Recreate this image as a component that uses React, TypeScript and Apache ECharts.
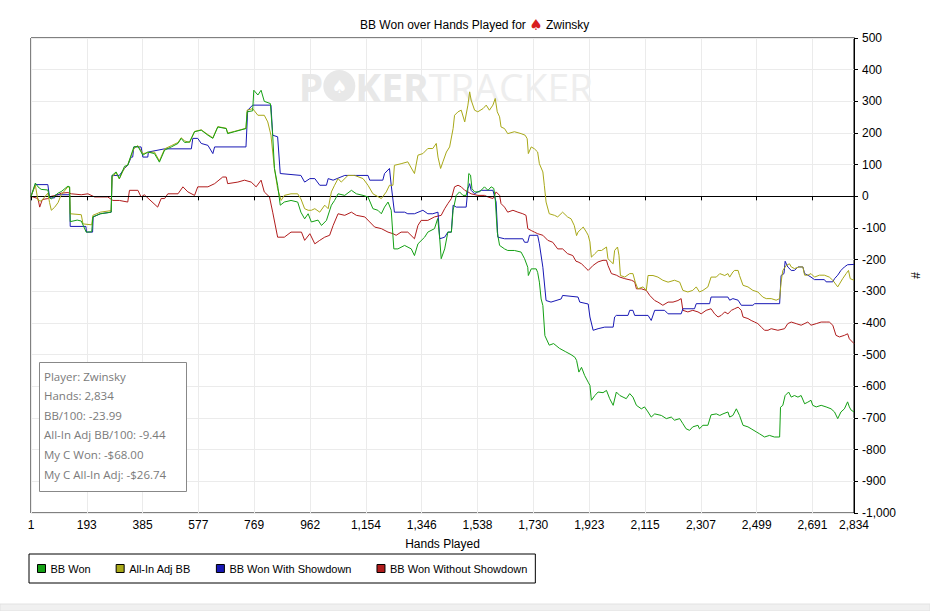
import React, { useEffect, useRef } from 'react';
import * as echarts from 'echarts';

// hand number, cumulative big blinds
const bbWon: number[][] = [
  [1, 0], [16, 42], [25, 30], [36, 22], [59, 20], [65, -5], [71, -8], [94, 10], [105, 15], [128, 32], [134, 30],
  [136, -80], [160, -75], [174, -78], [191, -113], [210, -112], [214, -65], [240, -55], [277, -50], [280, 66],
  [294, 77], [305, 56], [323, 95], [334, 98], [355, 156], [369, 158], [386, 130], [403, 140], [426, 135],
  [443, 108], [461, 146], [484, 156], [507, 167], [518, 183], [530, 170], [547, 172], [564, 204], [587, 209],
  [610, 193], [627, 183], [644, 219], [673, 214], [678, 198], [701, 204], [741, 214], [745, 267], [764, 270],
  [768, 335], [782, 320], [793, 335], [804, 300], [825, 293], [833, 193], [839, 88], [850, 35], [859, -28],
  [873, -18], [896, -13], [919, -18], [930, -50], [943, -71], [955, -55], [966, -81], [989, -75], [1001, -92],
  [1018, -76], [1035, -28], [1046, -13], [1058, 8], [1081, 3], [1104, 19], [1121, 8], [1144, 3], [1161, -2],
  [1178, -39], [1195, -44], [1207, -55], [1218, -34], [1230, -18], [1241, -44], [1250, -166], [1264, -166],
  [1287, -155], [1310, -166], [1321, -187], [1333, -150], [1356, -129], [1367, -113], [1390, -102], [1401, -70],
  [1408, -134], [1413, -197], [1425, -166], [1436, -113], [1448, -113], [1454, -44], [1465, 3], [1476, 14],
  [1488, 3], [1499, 3], [1505, 30], [1508, 72], [1514, 67], [1519, 24], [1528, 14], [1545, 14], [1562, 30],
  [1574, 19], [1585, 30], [1594, 25], [1599, -7], [1606, -113], [1614, -155], [1631, -166], [1642, -171],
  [1665, -171], [1688, -176], [1700, -197], [1711, -224], [1713, -250], [1723, -229], [1740, -229], [1745, -240],
  [1751, -271], [1757, -324], [1763, -345], [1770, -440], [1785, -470], [1800, -465], [1820, -480], [1840, -490],
  [1860, -500], [1873, -508], [1879, -518], [1887, -555], [1896, -540], [1907, -566], [1919, -587], [1925, -597],
  [1930, -644], [1942, -629], [1953, -618], [1970, -620], [1982, -613], [1993, -639], [2005, -660], [2016, -618],
  [2028, -629], [2039, -634], [2050, -639], [2062, -623], [2073, -634], [2085, -660], [2102, -671], [2113, -665],
  [2125, -681], [2136, -697], [2148, -687], [2171, -692], [2188, -702], [2205, -697], [2216, -707], [2234, -702],
  [2245, -718], [2256, -734], [2268, -739], [2279, -728], [2297, -723], [2302, -734], [2314, -723], [2331, -723],
  [2342, -690], [2360, -687], [2372, -692], [2383, -687], [2400, -681], [2406, -697], [2417, -692], [2429, -671],
  [2440, -692], [2452, -723], [2469, -728], [2480, -734], [2498, -744], [2509, -750], [2526, -760], [2543, -755],
  [2560, -760], [2578, -760], [2581, -666], [2589, -660], [2597, -629], [2609, -618], [2618, -634], [2629, -629],
  [2641, -634], [2652, -629], [2664, -655], [2675, -650], [2686, -644], [2692, -660], [2704, -665], [2721, -660],
  [2738, -665], [2755, -671], [2767, -681], [2778, -702], [2789, -681], [2801, -671], [2812, -649], [2818, -665],
  [2824, -675], [2834, -681],
];

const allInAdj: number[][] = [
  [1, 0], [16, 35], [25, -13], [36, -15], [59, 10], [65, -20], [71, -44], [82, -35], [94, -20], [105, 5],
  [128, 30], [134, 28], [136, -55], [174, -58], [180, -87], [210, -90], [214, -60], [240, -50], [277, -45],
  [280, 60], [294, 75], [305, 55], [323, 90], [334, 100], [355, 150], [369, 160], [386, 135], [403, 138],
  [426, 140], [443, 112], [461, 150], [484, 160], [507, 170], [518, 185], [530, 175], [547, 170], [564, 205],
  [587, 210], [610, 195], [627, 185], [644, 220], [673, 215], [678, 200], [701, 205], [741, 215], [745, 272],
  [764, 277], [782, 256], [804, 256], [816, 235], [827, 193], [839, 88], [850, 24], [862, -13], [873, 3],
  [896, 8], [919, 8], [930, -8], [943, -39], [955, -44], [966, -44], [978, -39], [995, -50], [1012, -28],
  [1024, -39], [1035, 14], [1046, 35], [1058, 56], [1069, 45], [1092, 66], [1115, 66], [1144, 56], [1161, 35],
  [1178, 8], [1207, -7], [1224, 14], [1235, 35], [1247, 35], [1252, 98], [1275, 103], [1298, 109], [1321, 72],
  [1333, 130], [1350, 135], [1367, 151], [1384, 151], [1396, 167], [1402, 124], [1411, 88], [1419, 109],
  [1431, 140], [1442, 156], [1454, 214], [1459, 256], [1471, 267], [1482, 272], [1494, 235], [1505, 288],
  [1511, 330], [1516, 304], [1528, 272], [1539, 267], [1557, 277], [1568, 288], [1579, 272], [1591, 288],
  [1599, 309], [1606, 267], [1614, 251], [1619, 219], [1631, 214], [1642, 198], [1665, 204], [1688, 198],
  [1702, 193], [1709, 182], [1713, 135], [1723, 156], [1734, 150], [1745, 140], [1751, 103], [1763, 77],
  [1768, 35], [1774, -18], [1785, -55], [1803, -60], [1814, -65], [1831, -50], [1848, -65], [1860, -71],
  [1871, -92], [1879, -124], [1884, -113], [1896, -102], [1902, -97], [1913, -113], [1919, -123], [1925, -144],
  [1930, -192], [1942, -181], [1953, -171], [1965, -171], [1982, -160], [1987, -197], [2005, -213], [2010, -171],
  [2020, -160], [2025, -186], [2030, -250], [2045, -255], [2062, -244], [2073, -244], [2081, -271], [2090, -292],
  [2108, -286], [2119, -297], [2125, -250], [2142, -250], [2159, -255], [2176, -265], [2194, -271], [2216, -265],
  [2234, -271], [2245, -297], [2262, -302], [2279, -297], [2291, -286], [2302, -302], [2314, -297], [2331, -286],
  [2342, -255], [2360, -255], [2372, -244], [2389, -250], [2400, -244], [2406, -255], [2417, -239], [2423, -234],
  [2435, -234], [2440, -250], [2452, -281], [2469, -286], [2486, -297], [2503, -302], [2520, -318], [2532, -323],
  [2549, -323], [2566, -328], [2578, -323], [2583, -271], [2589, -234], [2601, -218], [2612, -213], [2618, -223],
  [2629, -228], [2646, -223], [2658, -223], [2664, -249], [2675, -249], [2686, -244], [2698, -255], [2715, -249],
  [2732, -249], [2749, -255], [2761, -265], [2778, -286], [2795, -260], [2807, -244], [2815, -234], [2821, -260],
  [2834, -265],
];

const withShowdown: number[][] = [
  [1, 0], [16, 37], [59, 37], [65, -5], [82, -5], [86, 5], [134, 5], [136, -95], [190, -95], [192, -113],
  [213, -113], [215, -65], [240, -55], [277, -50], [280, 66], [305, 66], [323, 88], [334, 98], [346, 124],
  [351, 124], [355, 156], [380, 156], [386, 124], [403, 124], [405, 140], [461, 150], [553, 150], [558, 183],
  [575, 183], [587, 167], [610, 161], [627, 135], [633, 156], [741, 156], [747, 272], [764, 288], [827, 288],
  [833, 193], [850, 188], [859, 72], [930, 66], [943, 45], [961, 56], [978, 56], [995, 35], [1018, 35],
  [1024, 56], [1041, 51], [1081, 66], [1161, 66], [1167, 51], [1212, 51], [1218, 72], [1235, 88], [1241, 35],
  [1252, -50], [1287, -50], [1298, -55], [1321, -55], [1350, -44], [1367, -55], [1384, -55], [1402, -50],
  [1408, -134], [1425, -129], [1436, -113], [1448, -113], [1454, -28], [1465, -34], [1499, -34], [1505, 24],
  [1511, 40], [1516, 19], [1528, 8], [1539, 14], [1551, 19], [1591, 19], [1602, -18], [1608, -129], [1631, -134],
  [1694, -134], [1700, -145], [1711, -145], [1717, -123], [1745, -123], [1751, -150], [1763, -224], [1774, -329],
  [1791, -334], [1826, -324], [1831, -313], [1884, -318], [1890, -334], [1919, -340], [1925, -381], [1936, -423],
  [1953, -418], [1976, -413], [2005, -413], [2010, -381], [2016, -376], [2056, -376], [2062, -360], [2073, -360],
  [2079, -376], [2125, -376], [2136, -392], [2148, -360], [2182, -360], [2194, -371], [2239, -371], [2245, -355],
  [2285, -355], [2291, -339], [2337, -339], [2342, -318], [2400, -318], [2406, -328], [2417, -323], [2435, -328],
  [2446, -344], [2486, -344], [2492, -339], [2578, -339], [2583, -250], [2593, -244], [2597, -205], [2606, -223],
  [2618, -234], [2629, -234], [2641, -223], [2658, -223], [2664, -244], [2675, -249], [2686, -255], [2698, -263],
  [2732, -263], [2738, -270], [2761, -270], [2767, -260], [2778, -249], [2789, -234], [2801, -223], [2812, -216],
  [2834, -215],
];

const withoutShowdown: number[][] = [
  [1, 0], [25, -7], [31, -34], [40, -10], [59, -7], [71, 0], [94, 5], [105, 10], [128, 12], [140, 8], [174, 5],
  [197, 8], [220, -2], [265, -2], [283, -13], [305, -13], [334, -18], [340, 19], [369, 19], [380, -2], [391, 5],
  [437, -34], [449, -7], [461, -7], [472, 8], [507, 8], [524, 30], [541, 14], [564, 3], [575, 30], [610, 30],
  [633, 40], [661, 61], [673, 61], [678, 40], [713, 45], [736, 51], [759, 45], [776, 30], [793, 51], [804, 14],
  [822, -2], [833, -50], [850, -129], [873, -129], [896, -113], [932, -113], [943, -139], [961, -118],
  [978, -150], [995, -139], [1012, -129], [1029, -123], [1041, -92], [1058, -55], [1081, -60], [1104, -50],
  [1121, -60], [1150, -65], [1167, -81], [1184, -97], [1207, -102], [1230, -113], [1247, -118], [1258, -123],
  [1275, -113], [1298, -113], [1321, -134], [1333, -92], [1344, -76], [1367, -76], [1390, -65], [1413, -60],
  [1425, -39], [1436, -23], [1448, -7], [1459, 30], [1471, 35], [1482, 30], [1494, 19], [1505, 14], [1516, 8],
  [1539, 3], [1562, 3], [1574, -2], [1591, -7], [1602, 14], [1614, 3], [1619, -23], [1631, -34], [1642, -50],
  [1660, -44], [1677, -50], [1694, -55], [1705, -60], [1711, -102], [1723, -108], [1734, -113], [1745, -118],
  [1763, -123], [1780, -139], [1797, -145], [1814, -166], [1831, -166], [1848, -181], [1866, -187], [1877, -205],
  [1884, -207], [1896, -213], [1907, -223], [1919, -234], [1936, -218], [1953, -207], [1970, -202], [1982, -202],
  [1987, -218], [1999, -244], [2016, -249], [2028, -255], [2045, -260], [2068, -265], [2079, -270], [2085, -292],
  [2102, -292], [2119, -297], [2131, -313], [2148, -329], [2159, -334], [2176, -344], [2194, -334], [2211, -334],
  [2228, -329], [2239, -323], [2245, -360], [2262, -365], [2279, -360], [2297, -365], [2308, -371], [2325, -360],
  [2342, -355], [2354, -371], [2366, -381], [2377, -376], [2389, -365], [2400, -371], [2412, -360], [2423, -355],
  [2435, -350], [2446, -360], [2452, -381], [2469, -386], [2480, -392], [2492, -397], [2503, -402], [2515, -413],
  [2526, -423], [2538, -423], [2549, -418], [2572, -423], [2595, -418], [2606, -402], [2618, -397], [2635, -402],
  [2652, -407], [2675, -397], [2686, -407], [2704, -402], [2721, -397], [2738, -397], [2749, -397], [2761, -407],
  [2772, -439], [2784, -444], [2801, -439], [2812, -434], [2818, -450], [2834, -465],
];

const handTicks = [1, 193, 385, 577, 769, 962, 1154, 1346, 1538, 1730, 1923, 2115, 2307, 2499, 2691, 2834];

const seriesNames = ['BB Won', 'All-In Adj BB', 'BB Won With Showdown', 'BB Won Without Showdown'];
const seriesColors = ['#14a014', '#a8a818', '#1818b4', '#b01c1c'];

const infoLines = [
  'Player: Zwinsky',
  'Hands: 2,834',
  'BB/100: -23.99',
  'All-In Adj BB/100: -9.44',
  'My C Won: -$68.00',
  'My C All-In Adj: -$26.74',
];

const FONT = '"Liberation Sans", Arial, sans-serif';

const App: React.FC = () => {
  const chartRef = useRef<HTMLDivElement>(null);

  useEffect(() => {
    if (!chartRef.current) return;
    const chart = echarts.init(chartRef.current, null, { renderer: 'svg' });

    const allData = [bbWon, allInAdj, withShowdown, withoutShowdown];

    const option = {
      animation: false,
      backgroundColor: '#fff',
      textStyle: { fontFamily: FONT },
      title: {
        text: '{t|BB Won over Hands Played for }{s|♠}{t| Zwinsky}',
        left: 355,
        top: 12,
        textStyle: {
          fontWeight: 'normal',
          rich: {
            t: { fontFamily: FONT, fontSize: 12, fontWeight: 'normal', color: '#000' },
            s: { fontFamily: '"DejaVu Sans"', fontSize: 15, fontWeight: 'normal', color: '#d81e1e' },
          },
        },
      },
      grid: {
        left: 31,
        right: 74,
        top: 38,
        bottom: 98,
        show: true,
        borderColor: '#000',
        borderWidth: 1,
        backgroundColor: 'transparent',
      },
      legend: {
        left: 29,
        top: 554,
        padding: [9, 8, 9, 8],
        borderColor: '#000',
        borderWidth: 1,
        itemGap: 25,
        itemWidth: 8,
        itemHeight: 8,
        icon: 'rect',
        itemStyle: { borderColor: '#000', borderWidth: 1 },
        textStyle: { fontFamily: FONT, fontSize: 11, color: '#000' },
        data: seriesNames,
      },
      xAxis: {
        type: 'value',
        min: 1,
        max: 2834,
        name: 'Hands Played',
        nameLocation: 'middle',
        nameGap: 25,
        nameTextStyle: { fontFamily: FONT, fontSize: 12, color: '#000' },
        axisLine: { show: true, lineStyle: { color: '#000' } },
        axisTick: { show: true, length: 4, customValues: handTicks, lineStyle: { color: '#000' } },
        axisLabel: {
          customValues: handTicks,
          margin: 6,
          fontFamily: FONT,
          fontSize: 12,
          color: '#000',
          formatter: (v: number) => echarts.format.addCommas(v),
        },
        splitLine: { show: true, lineStyle: { color: '#ebebeb' } },
      },
      yAxis: {
        type: 'value',
        position: 'right',
        min: -1000,
        max: 500,
        interval: 100,
        name: '#',
        nameLocation: 'middle',
        nameGap: 56,
        nameTextStyle: { fontFamily: FONT, fontSize: 12, color: '#000' },
        axisLine: { show: true, lineStyle: { color: '#000' } },
        axisTick: { show: true, length: 4, lineStyle: { color: '#000' } },
        axisLabel: {
          margin: 8,
          fontFamily: FONT,
          fontSize: 12,
          color: '#000',
          formatter: (v: number) => echarts.format.addCommas(v),
        },
        splitLine: { show: true, lineStyle: { color: '#ebebeb' } },
      },
      series: seriesNames.map((name, i) => ({
        name,
        type: 'line',
        data: allData[i],
        symbol: 'none',
        showSymbol: false,
        color: seriesColors[i],
        lineStyle: { width: 1, color: seriesColors[i] },
        z: 3 + (3 - i),
        markLine:
          i === 0
            ? {
                silent: true,
                symbol: 'none',
                label: { show: false },
                lineStyle: { color: '#000', width: 1, type: 'solid' },
                data: [{ yAxis: 0 }],
              }
            : undefined,
      })),
      graphic: [
        {
          type: 'text',
          x: 446,
          y: 86,
          z: 1,
          silent: true,
          style: {
            text: '{a|P}{c|♠}{a|KER}{b|TRACKER}',
            align: 'center',
            verticalAlign: 'middle',
            fill: '#e8e8e8',
            rich: {
              a: { fontFamily: '"Open Sans"', fontWeight: 'bold', fontSize: 39, fill: '#e8e8e8' },
              b: { fontFamily: '"Open Sans"', fontWeight: 'normal', fontSize: 39, fill: '#eeeeee' },
              c: {
                fontFamily: '"DejaVu Sans"',
                fontSize: 18,
                fill: '#ffffff',
                backgroundColor: '#e8e8e8',
                borderRadius: 16,
                width: 32,
                height: 32,
                lineHeight: 32,
                align: 'center',
              },
            },
          },
        },
        {
          type: 'rect',
          z: 100,
          shape: { x: 39.5, y: 362.5, width: 147, height: 129 },
          style: { fill: '#fff', stroke: '#888', lineWidth: 1 },
          silent: true,
        },
        ...infoLines.map((line, i) => ({
          type: 'text',
          z: 101,
          x: 44,
          y: 376 + i * 19.6,
          silent: true,
          style: {
            text: line,
            fontFamily: '"Open Sans"',
            fontSize: 11.5,
            fill: '#7a7a7a',
            verticalAlign: 'middle',
          },
        })),
        {
          type: 'rect',
          shape: { x: 0, y: 604, width: 930, height: 7 },
          style: { fill: '#f0f0f0', stroke: '#e2e2e2', lineWidth: 1 },
          silent: true,
        },
      ],
    };

    chart.setOption(option);
    return () => {
      chart.dispose();
    };
  }, []);

  return (
    <div
      ref={chartRef}
      style={{ position: 'absolute', left: 0, top: 0, width: '930px', height: '611px' }}
    ></div>
  );
};

export default App;
